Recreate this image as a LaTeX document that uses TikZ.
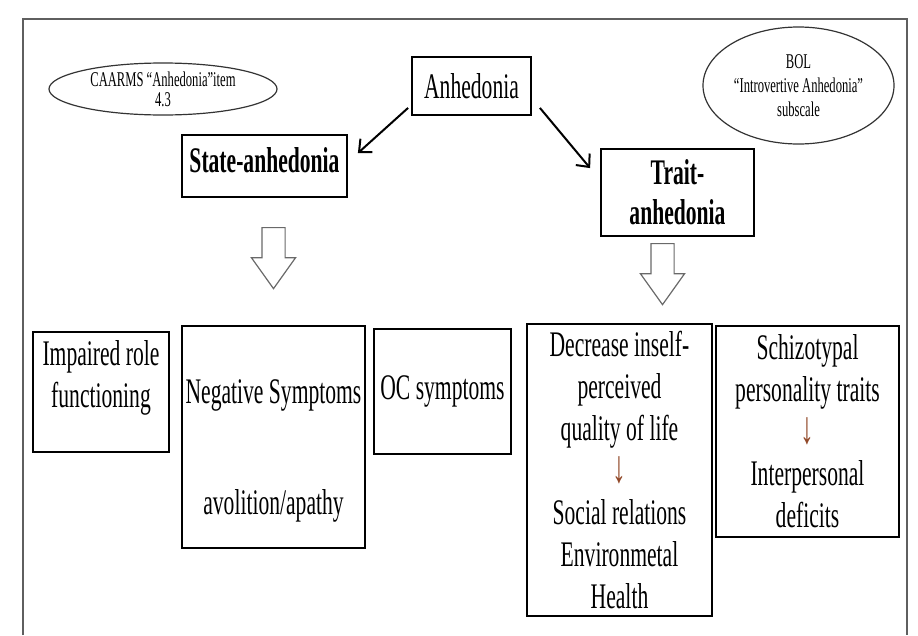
\documentclass[tikz,border=0pt]{standalone}
\usepackage{fontspec}
\setmainfont[FakeStretch=0.6]{Liberation Serif}
\usepackage{tikz}
\usetikzlibrary{positioning, arrows.meta, shapes.geometric, shapes.arrows}

\definecolor{framegray}{RGB}{95,95,95}
\definecolor{hollowgray}{RGB}{105,105,105}
\definecolor{arrowbrown}{RGB}{145,72,40}

\newcommand{\thendown}{{\fontsize{46}{42}\selectfont\color{arrowbrown}↓}}

\begin{document}
\begin{tikzpicture}[
    x=1pt, y=-1pt,
    font=\fontsize{36}{42}\selectfont,
    cell/.style={
        draw=black, line width=1.8pt, align=center, inner sep=2pt,
    },
    headcell/.style={
        cell, font=\fontsize{36}{40}\selectfont\bfseries,
    },
    scalenote/.style={
        draw=black!80, line width=1.2pt, ellipse, align=center, inner sep=0pt,
        font=\fontsize{21}{20}\selectfont,
    },
    hollow/.style={
        draw=hollowgray, line width=1.2pt, single arrow, rotate=-90,
        minimum height=61pt, inner xsep=2pt, inner ysep=11pt,
        single arrow head extend=10.5pt, single arrow tip angle=71,
    },
    link/.style={-{Straight Barb[length=10pt, width=18pt]}, line width=2pt},
]
\useasboundingbox (0,0) rectangle (918,635);

% outer frame, open at the bottom
\draw[framegray, line width=1.5pt] (23,635) -- (23,19) -- (907,19) -- (907,635);

\node[cell, minimum width=119pt, minimum height=58pt] (anh) at (471.5,86) {Anhedonia};
\node[headcell, minimum width=165pt, minimum height=62pt] (state) at (264.5,166) {State-anhedonia\\[-29pt]\mbox{}};
\node[headcell, minimum width=153pt, minimum height=87pt] (trait) at (677.5,192.5) {Trait-\\anhedonia};

\node[scalenote, minimum width=228pt, minimum height=52pt] (caarms) at (163,89) {CAARMS “Anhedonia”item\\4.3};
\node[scalenote, minimum width=191pt, minimum height=117pt, font=\fontsize{21}{24}\selectfont] (bol) at (798.5,85.5)
    {BOL\\“Introvertive Anhedonia”\\subscale};

\node[hollow] (downstate) at (273.5,250) {};
\node[hollow] (downtrait) at (662.5,266) {};

\node[cell, minimum width=136pt, minimum height=120pt] (impaired) at (101,392) {Impaired role\\functioning\\[-6pt]\mbox{}};
\node[cell, minimum width=183pt, minimum height=222pt] (negative) at (273.5,437) {\mbox{}\\[9pt]Negative Symptoms\\[69pt]avolition/apathy};
\node[cell, minimum width=137pt, minimum height=125pt] (oc) at (442.5,391.5) {OC symptoms};
\node[cell, minimum width=185pt, minimum height=292pt] (decrease) at (619.5,470)
    {Decrease inself-\\perceived\\quality of life\\\thendown\\Social relations\\Environmetal\\Health};
\node[cell, minimum width=183pt, minimum height=211pt] (schizo) at (807.5,431.5)
    {Schizotypal\\personality traits\\\thendown\\Interpersonal\\deficits};

\draw[link] ([xshift=-3pt, yshift=8pt]anh.south west) -- ([xshift=10pt, yshift=-19pt]state.north east);
\draw[link] ([xshift=8pt, yshift=8pt]anh.south east) -- ([xshift=-10pt, yshift=-20pt]trait.north west);

\end{tikzpicture}
\end{document}
